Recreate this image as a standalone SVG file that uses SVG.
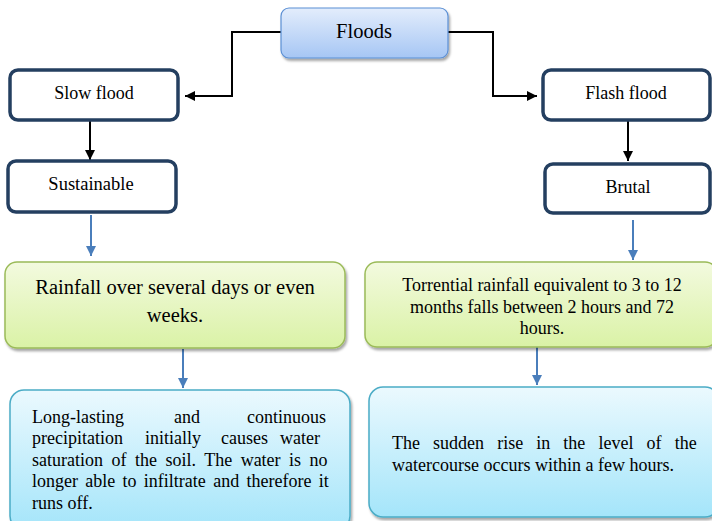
<svg xmlns="http://www.w3.org/2000/svg" width="712" height="521" viewBox="0 0 712 521">
<defs>
<linearGradient id="gBlueTop" x1="0" y1="0" x2="0" y2="1"><stop offset="0" stop-color="#e3edfc"/><stop offset="1" stop-color="#a6c6f4"/></linearGradient>
<linearGradient id="gGreen" x1="0" y1="0" x2="0" y2="1"><stop offset="0" stop-color="#f3fadf"/><stop offset="1" stop-color="#daf2a6"/></linearGradient>
<linearGradient id="gCyan" x1="0" y1="0" x2="0" y2="1"><stop offset="0" stop-color="#ebf9fe"/><stop offset="1" stop-color="#a4e5fa"/></linearGradient>
<filter id="sh" x="-10%" y="-10%" width="120%" height="130%"><feDropShadow dx="1.5" dy="2.5" stdDeviation="1.2" flood-color="#000" flood-opacity="0.35"/></filter>
<marker id="ab" viewBox="0 0 10 10" refX="10" refY="5" markerWidth="10" markerHeight="10" markerUnits="userSpaceOnUse" orient="auto"><path d="M0,0 L10,5 L0,10 z" fill="#000"/></marker>
<marker id="abl" viewBox="0 0 10 10" refX="10" refY="5" markerWidth="10" markerHeight="10" markerUnits="userSpaceOnUse" orient="auto"><path d="M0,0 L10,5 L0,10 z" fill="#4a7ebb"/></marker>
</defs>
<style>
text{font-family:"Liberation Serif","Times New Roman",serif;fill:#000}
.dark{fill:#fff;stroke:#243f60;stroke-width:3.5}
.blk{fill:none;stroke:#000;stroke-width:2}
.blu{fill:none;stroke:#4a7ebb;stroke-width:2}
.mid{text-anchor:middle}
</style>
<g id="connectors">
<path class="blk" d="M281,32 H232 V96 H185" marker-end="url(#ab)"/>
<path class="blk" d="M448,32 H493 V96 H537" marker-end="url(#ab)"/>
<path class="blk" d="M90,120 V160" marker-end="url(#ab)"/>
<path class="blk" d="M628,120 V161" marker-end="url(#ab)"/>
<path class="blu" d="M91,215 V256" marker-end="url(#abl)"/>
<path class="blu" d="M633,220 V260" marker-end="url(#abl)"/>
<path class="blu" d="M183,349 V388" marker-end="url(#abl)"/>
<path class="blu" d="M537,347 V385" marker-end="url(#abl)"/>
</g>
<g id="floods">
<rect x="281" y="8" width="167" height="50" rx="8" fill="url(#gBlueTop)" stroke="#5b8fd4" stroke-width="1.2" filter="url(#sh)"/>
<text class="mid" x="364" y="38" font-size="20.5">Floods</text>
</g>
<g id="slow-flood">
<rect class="dark" x="10" y="70" width="168" height="50" rx="8"/>
<text class="mid" x="94" y="99" font-size="18">Slow flood</text>
</g>
<g id="flash-flood">
<rect class="dark" x="543" y="70" width="167" height="50" rx="8"/>
<text class="mid" x="626" y="99" font-size="18">Flash flood</text>
</g>
<g id="sustainable">
<rect class="dark" x="8" y="161" width="168" height="51" rx="8"/>
<text class="mid" x="91" y="190" font-size="18.5">Sustainable</text>
</g>
<g id="brutal">
<rect class="dark" x="545" y="164" width="165" height="49" rx="8"/>
<text class="mid" x="628" y="193" font-size="18">Brutal</text>
</g>
<g id="rain-slow">
<rect x="5" y="262" width="340" height="86" rx="12" fill="url(#gGreen)" stroke="#9bbb59" stroke-width="1.5" filter="url(#sh)"/>
<text class="mid" font-size="20.5"><tspan x="175" y="294">Rainfall over several days or even</tspan><tspan x="175" y="322">weeks.</tspan></text>
</g>
<g id="rain-flash">
<rect x="365" y="262" width="352" height="85" rx="12" fill="url(#gGreen)" stroke="#9bbb59" stroke-width="1.5" filter="url(#sh)"/>
<text class="mid" font-size="18"><tspan x="542" y="291">Torrential rainfall equivalent to 3 to 12</tspan><tspan x="542" y="313">months falls between 2 hours and 72</tspan><tspan x="542" y="334">hours.</tspan></text>
</g>
<g id="effect-slow">
<rect x="10" y="390" width="340" height="140" rx="14" fill="url(#gCyan)" stroke="#4bacc6" stroke-width="1.5" filter="url(#sh)"/>
<text font-size="18">
<tspan x="32" y="423">Long-lasting</tspan><tspan x="174" y="423">and</tspan><tspan x="247" y="423">continuous</tspan>
<tspan x="32" y="444">precipitation</tspan><tspan x="145" y="444">initially</tspan><tspan x="221" y="444">causes</tspan><tspan x="280" y="444">water</tspan>
</text>
<text font-size="18" x="32" y="466" word-spacing="4">saturation of the soil. The water is no</text>
<text font-size="18" x="32" y="487" word-spacing="2.8">longer able to infiltrate and therefore it</text>
<text font-size="18" x="32" y="509">runs off.</text>
</g>
<g id="effect-flash">
<rect x="369" y="387" width="350" height="130" rx="14" fill="url(#gCyan)" stroke="#4bacc6" stroke-width="1.5" filter="url(#sh)"/>
<text font-size="18" x="392" y="449" word-spacing="8.6">The sudden rise in the level of the</text>
<text font-size="18" x="392" y="471">watercourse occurs within a few hours.</text>
</g>
</svg>
